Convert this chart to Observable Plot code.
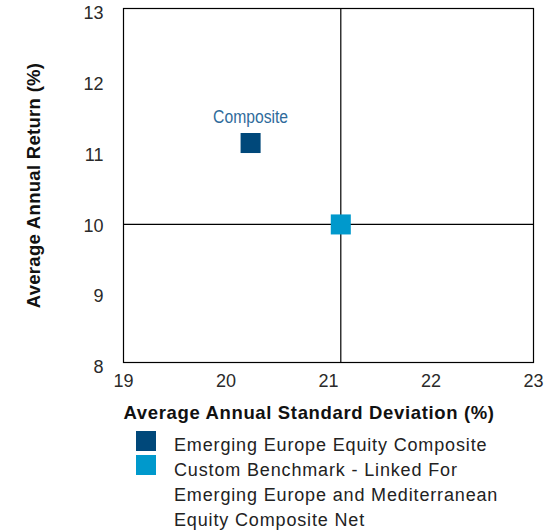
<!DOCTYPE html>
<html>
<head>
<meta charset="utf-8">
<script src="https://cdn.jsdelivr.net/npm/d3@7"></script>
<script src="https://cdn.jsdelivr.net/npm/@observablehq/plot@0.6"></script>
<style>
  html, body { margin: 0; padding: 0; background: #fff; }
  #chart svg { display: block; }
  .axlab { font-weight: bold; }
  #legend { position: relative; height: 107px; font-family: "Liberation Sans", Arial, sans-serif; font-size: 18px; letter-spacing: 0.85px; color: #222; }
  .sw { position: absolute; left: 136px; width: 20px; height: 20px; }
  .lt { position: absolute; left: 174px; top: 8px; line-height: 25px; white-space: nowrap; }
</style>
</head>
<body>
<div id="chart"></div>
<div id="legend"></div>
<script>
const seriesNames = ["Emerging Europe Equity Composite", "Custom Benchmark - Linked For Emerging Europe and Mediterranean Equity Composite Net"];
const legendLines = [["Emerging Europe Equity Composite"], ["Custom Benchmark - Linked For", "Emerging Europe and Mediterranean", "Equity Composite Net"]];
const stdDev = [20.24, 21.12];
const annualReturn = [11.10, 9.95];
const colors = ["#00487a", "#0099cc"];
const pointLabels = ["Composite", ""];
const xTicks = [19, 20, 21, 22, 23];
const yTicks = [8, 9, 10, 11, 12, 13];
const xLabel = "Average Annual Standard Deviation (%)";
const yLabel = "Average Annual Return (%)";

const data = seriesNames.map((name, i) => ({name, x: stdDev[i], y: annualReturn[i], color: colors[i], label: pointLabels[i]}));
const bench = data[1];

const chart = Plot.plot({
  width: 547,
  height: 425,
  marginLeft: 123,
  marginRight: 14,
  marginTop: 8,
  marginBottom: 63,
  style: { fontFamily: "Liberation Sans, Arial, sans-serif", fontSize: "18px", color: "#2a2a2a", background: "#fff" },
  x: { domain: [19, 23] },
  y: { domain: [8, 13] },
  marks: [
    Plot.ruleX([bench.x], { stroke: "#000", strokeWidth: 1.2 }),
    Plot.ruleY([bench.y], { stroke: "#000", strokeWidth: 1.2 }),
    Plot.frame({ stroke: "#000", strokeWidth: 1.2 }),
    Plot.dot(data, { x: "x", y: "y", symbol: "square", r: 11.3, fill: "color", stroke: "none" }),
    Plot.text(data.filter(d => d.label), { x: "x", y: "y", text: "label", dy: -26, fill: "#2f6b9b", fontSize: 18, className: "ptlab" }),
    Plot.axisX({ ticks: xTicks, tickSize: 0, tickPadding: 12, label: null, tickFormat: d => String(d) }),
    Plot.axisY({ ticks: yTicks, tickSize: 0, tickPadding: 20, dy: 5, label: null, tickFormat: d => String(d) }),
    Plot.text([xLabel], { frameAnchor: "bottom-left", textAnchor: "start", lineAnchor: "middle", dy: 51, fontSize: 18.5, fill: "#111", className: "axlab", fontWeight: "bold" }),
    Plot.text([yLabel], { frameAnchor: "left", textAnchor: "middle", lineAnchor: "middle", rotate: -90, dx: -89, fontSize: 18.5, fill: "#111", className: "axlab", fontWeight: "bold" })
  ]
});
document.getElementById("chart").append(chart);

// letter spacing to emulate the wider original face
chart.querySelectorAll("g.axlab text").forEach((t, i) => t.setAttribute("letter-spacing", i === 0 ? "0.65px" : "0.3px"));
chart.querySelectorAll("g.ptlab text").forEach(t => { t.setAttribute("textLength", "75"); t.setAttribute("lengthAdjust", "spacingAndGlyphs"); });

const legend = document.getElementById("legend");
const swTops = [6, 30];
data.forEach((d, i) => {
  const sw = document.createElement("div");
  sw.className = "sw";
  sw.style.top = swTops[i] + "px";
  sw.style.background = d.color;
  legend.append(sw);
});
const txt = document.createElement("div");
txt.className = "lt";
txt.innerHTML = legendLines.flat().join("<br>");
legend.append(txt);
</script>
</body>
</html>
